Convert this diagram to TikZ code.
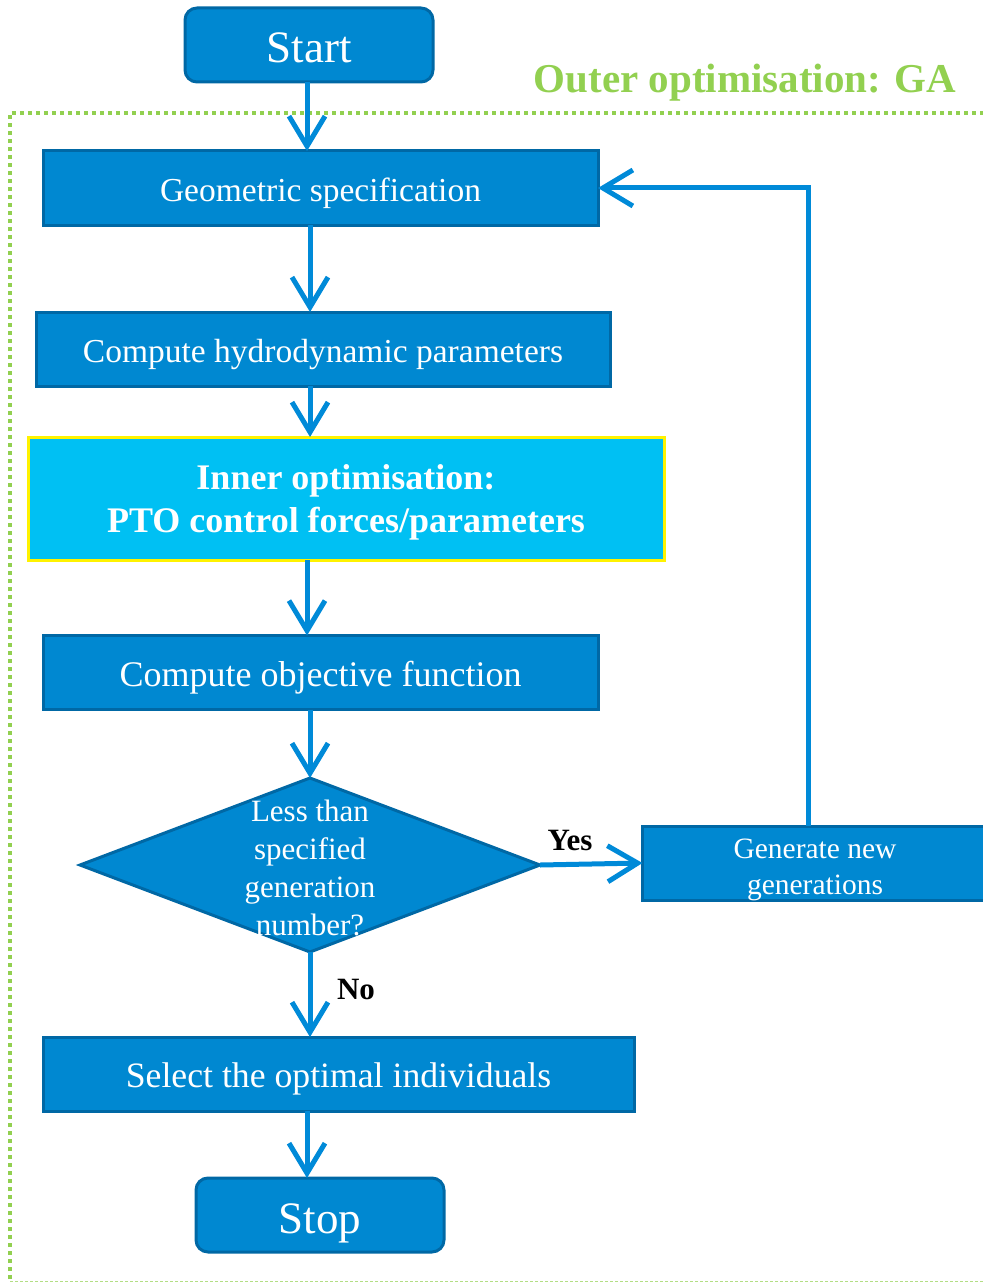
\documentclass[tikz,border=0pt]{standalone}
\usepackage{fontspec}
\setmainfont{Liberation Serif}
\usetikzlibrary{shapes.geometric, arrows.meta}

\definecolor{boxblue}{RGB}{0,136,209}
\definecolor{edgeblue}{RGB}{0,104,165}
\definecolor{lineblue}{RGB}{0,138,216}
\definecolor{innercyan}{RGB}{0,192,243}
\definecolor{gagreen}{RGB}{146,208,80}

\begin{document}
\begin{tikzpicture}[x=1pt, y=-1pt,
    every node/.style = {inner sep=0mm, outer sep=0mm, align=center, text=white,
                         text depth=0pt},
       process/.style = {draw=edgeblue, line width=3pt, fill=boxblue, text height=27pt,
                         minimum height=74pt, font=\fontsize{33.5}{38}\selectfont},
      terminal/.style = {process, rounded corners=12pt, minimum width=248pt,
                         text height=36pt, font=\fontsize{45}{50}\selectfont},
         inner/.style = {draw=yellow, line width=3pt, fill=innercyan,
                         font=\fontsize{36}{43}\selectfont\bfseries},
      decision/.style = {diamond, draw=edgeblue, line width=3pt, fill=boxblue},
          flow/.style = {draw=lineblue, line width=5pt,
                         -{Straight Barb[length=30pt, width=36pt]}},
        answer/.style = {text=black, font=\fontsize{31}{36}\selectfont\bfseries},
         outer/.style = {draw=gagreen, line width=3.5pt, dash pattern=on 4pt off 4pt}]%
  \useasboundingbox (0,0) rectangle (982,1284);
  % outer loop frame
  \draw [outer] (10,1279) -- (10,113) -- (990,113);
  \draw [draw=gagreen!70, line width=1pt, dash pattern=on 3pt off 2pt]
                (10,1281) -- (990,1281);
  \node (ga) [text=gagreen, font=\fontsize{41}{46}\selectfont\bfseries]
                at (745,78) {Outer optimisation: GA};
  % steps
  \node (start) [terminal]  at (309,45) {Start};
  \node (geo)   [process, minimum width=555pt] at (320.5,188) {Geometric specification};
  \node (hydro) [process, minimum width=574pt] at (323,349) {Compute hydrodynamic parameters};
  \node (inopt) [inner, minimum width=636pt, minimum height=123pt]
                at (346,498.5) {Inner optimisation:\\PTO control forces/parameters};
  \node (obj)   [process, minimum width=555pt, font=\fontsize{36}{40}\selectfont]
                at (320.5,672.5) {Compute objective function};
  \node (dec)   [decision, minimum width=460pt, minimum height=174pt,
                 label={[text=white, align=center, yshift=-3pt,
                         font=\fontsize{31}{38}\selectfont]center:Less than\\specified\\generation\\number?}]
                at (310,865) {};
  \node (gen)   [process, minimum width=345pt, text height=62pt,
                 font=\fontsize{29.5}{36}\selectfont]
                at (815,863) {Generate new\\generations};
  \node (sel)   [process, minimum width=591pt, font=\fontsize{35.7}{40}\selectfont]
                at (338.5,1074) {Select the optimal individuals};
  \node (stop)  [terminal]  at (320,1215) {Stop};
  % connectors
  \draw [flow] (start.south -| 307,0) -- (307,0 |- geo.north);
  \draw [flow] (geo.south -| dec) -- (dec |- hydro.north);
  \draw [flow] (hydro.south -| dec) -- (dec |- inopt.north);
  \draw [flow] (inopt.south -| 307,0) -- (307,0 |- obj.north);
  \draw [flow] (obj.south -| dec) -- (dec.north);
  \draw [flow] (dec.east) -- (gen.west);
  \draw [flow] (dec.south) -- (dec |- sel.north);
  \draw [flow] (sel.south -| 307,0) -- (307,0 |- stop.north);
  \draw [flow] ([xshift=-7pt]gen.north) |- (geo.east);
  % answers
  \node (yes) [answer] at (570,840) {Yes};
  \node (no)  [answer] at (356,989) {No};
\end{tikzpicture}
\end{document}
